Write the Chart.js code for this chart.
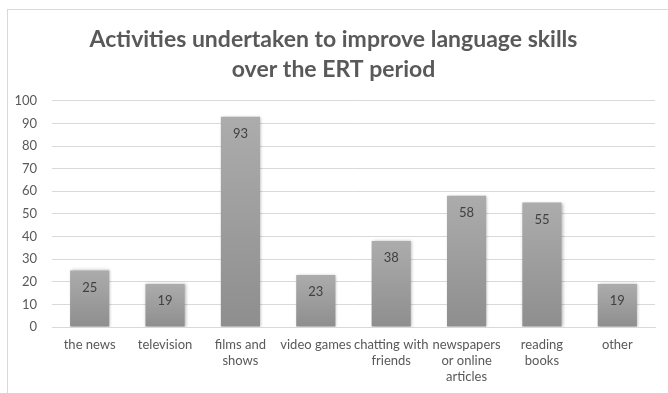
<!DOCTYPE html>
<html>
<head>
<meta charset="utf-8">
<script src="https://cdn.jsdelivr.net/npm/chart.js@4.4.0/dist/chart.umd.min.js"></script>
<style>
  html, body { margin: 0; padding: 0; background: #fff; }
  #wrap { position: relative; width: 668px; height: 393px; overflow: hidden; }
  #frame { position: absolute; left: 7px; top: 9px; width: 700px; height: 400px; border: 1px solid #d9d9d9; box-sizing: border-box; }
  #c { position: absolute; left: 0; top: 0; }
</style>
</head>
<body>
<div id="wrap">
  <div id="frame"></div>
  <canvas id="c" width="668" height="393"></canvas>
</div>
<script>
const categories = [
  'the news',
  'television',
  ['films and', 'shows'],
  'video games',
  ['chatting with', 'friends'],
  ['newspapers', 'or online', 'articles'],
  ['reading', 'books'],
  'other'
];
const counts = [25, 19, 93, 23, 38, 58, 55, 19];
const yTicks = { min: 0, max: 100, step: 10 };
const chartTitle = ['Activities undertaken to improve language skills', 'over the ERT period'];

const textColor = '#595959';
const fontFamily = 'Lato, "Open Sans", sans-serif';

// grey gradient per bar, lighter at the top
function barFill(context) {
  const chart = context.chart;
  const y = chart.scales.y;
  if (!y || context.raw === undefined || !chart.chartArea) return '#9c9c9c';
  const top = y.getPixelForValue(context.raw);
  const bottom = y.getPixelForValue(0);
  if (!isFinite(top) || !isFinite(bottom)) return '#9c9c9c';
  const g = chart.ctx.createLinearGradient(0, top, 0, bottom);
  g.addColorStop(0, '#acacac');
  g.addColorStop(1, '#8e8e8e');
  return g;
}

const barShadow = {
  id: 'barShadow',
  beforeDatasetsDraw(chart) {
    const ctx = chart.ctx;
    ctx.save();
    ctx.shadowColor = 'rgba(0,0,0,0.28)';
    ctx.shadowBlur = 3;
    ctx.shadowOffsetX = 1;
    ctx.shadowOffsetY = 0;
  },
  afterDatasetsDraw(chart) {
    chart.ctx.restore();
  }
};

const insideLabels = {
  id: 'insideLabels',
  afterDatasetsDraw(chart) {
    const ctx = chart.ctx;
    const meta = chart.getDatasetMeta(0);
    ctx.save();
    ctx.fillStyle = '#404040';
    ctx.font = '13px ' + fontFamily;
    ctx.textAlign = 'center';
    ctx.textBaseline = 'middle';
    meta.data.forEach((bar, i) => {
      ctx.fillText(String(counts[i]), bar.x, bar.y + 17);
    });
    ctx.restore();
  }
};

new Chart(document.getElementById('c'), {
  type: 'bar',
  data: {
    labels: categories,
    datasets: [{
      data: counts,
      backgroundColor: barFill,
      borderWidth: 0,
      categoryPercentage: 1,
      barPercentage: 0.52
    }]
  },
  plugins: [barShadow, insideLabels],
  options: {
    responsive: false,
    animation: false,
    devicePixelRatio: 1,
    layout: { padding: { left: 12, right: 13, top: 0, bottom: 8 } },
    plugins: {
      legend: { display: false },
      tooltip: { enabled: false },
      title: {
        display: true,
        text: chartTitle,
        color: textColor,
        font: { family: fontFamily, size: 23, weight: 'bold', lineHeight: 1.3 },
        padding: { top: 25, bottom: 16 }
      }
    },
    scales: {
      x: {
        grid: { display: false },
        border: { display: true, color: '#d9d9d9' },
        afterFit(axis) { axis.height = 58; },
        ticks: {
          color: textColor,
          font: { family: fontFamily, size: 13, lineHeight: 1.23 },
          maxRotation: 0,
          autoSkip: false,
          padding: 2
        }
      },
      y: {
        min: yTicks.min,
        max: yTicks.max,
        grid: { color: '#d9d9d9', drawTicks: false },
        border: { display: false },
        afterFit(axis) { axis.width = 40; },
        ticks: {
          stepSize: yTicks.step,
          color: textColor,
          font: { family: fontFamily, size: 13 },
          padding: 15
        }
      }
    }
  }
});
</script>
</body>
</html>
